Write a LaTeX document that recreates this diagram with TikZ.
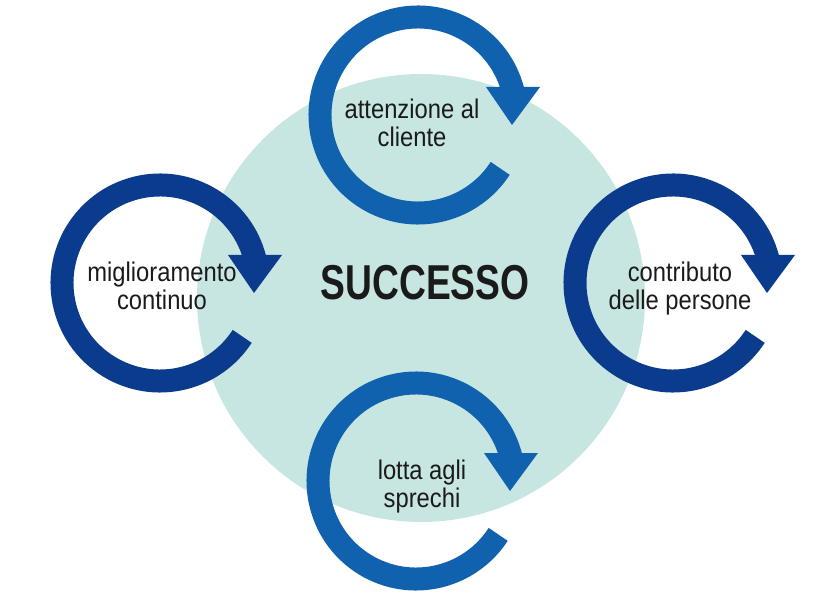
\documentclass[tikz,border=0pt]{standalone}
\usepackage{fontspec}
\setmainfont[FakeStretch=0.88]{Liberation Sans}
\newfontfamily\headfont[FakeStretch=0.76]{Liberation Sans}
\usetikzlibrary{positioning}
\definecolor{ringblue}{HTML}{1162AE}
\definecolor{ringnavy}{HTML}{0B3B8C}
\definecolor{tealbg}{HTML}{C7E6E1}
\definecolor{inkblack}{HTML}{1A1A1A}

\begin{document}
\begin{tikzpicture}[x=1pt,y=1pt,
  ringlabel/.style={font=\fontsize{27}{28}\selectfont,align=center,text=inkblack,inner sep=0pt}]
\useasboundingbox (0,0) rectangle (826,600);
\fill[tealbg] (421,302) circle[radius=224];
% four circular arrows
\foreach \nm/\cx/\cy/\col in {top/418/485/ringblue,left/160/317/ringnavy,right/673/317/ringnavy,bottom/416/119/ringblue}{
  \coordinate (c\nm) at (\cx,\cy);
  \draw[\col,line width=23pt] ([shift={(14:98)}]c\nm) arc[start angle=14,end angle=327,radius=98];
  \fill[\col] ([shift={(68,28)}]c\nm) -- ([shift={(122,28)}]c\nm) -- ([shift={(94,-10)}]c\nm) -- cycle;
}
\node[font=\headfont\bfseries\fontsize{49}{50}\selectfont,text=inkblack,inner sep=0pt] (successo) at (425,317.5) {SUCCESSO};
\node[ringlabel] (cliente) at (412,477) {attenzione al\\cliente};
\node[ringlabel] (miglioramento) at (162,314) {miglioramento\\continuo};
\node[ringlabel] (persone) at (680,311) {contributo\\delle persone};
\node[ringlabel] (sprechi) at (422,113.5) {lotta agli\\sprechi};
\end{tikzpicture}
\end{document}
